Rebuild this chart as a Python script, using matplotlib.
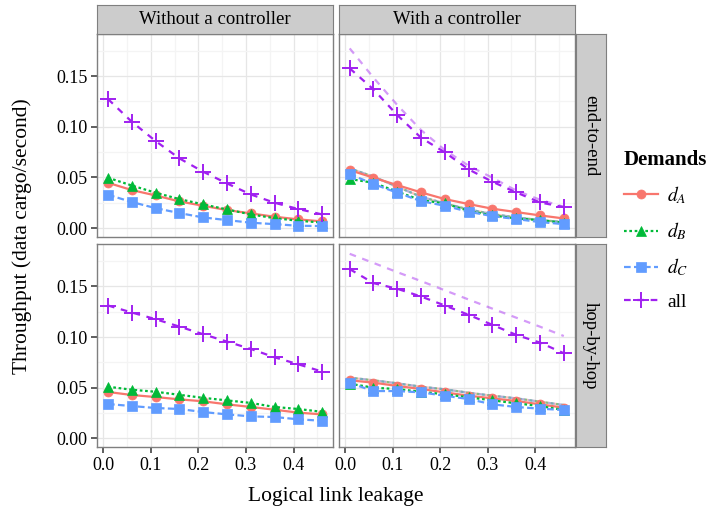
import matplotlib
matplotlib.use('Agg')
import matplotlib.pyplot as plt
from matplotlib.lines import Line2D

plt.rcParams['font.family'] = ['Liberation Serif', 'DejaVu Serif']
plt.rcParams['mathtext.fontset'] = 'stix'

# --- data ---
leakage = [0.01, 0.06, 0.11, 0.16, 0.21, 0.26, 0.31, 0.36, 0.41, 0.46]
demands = ['$d_A$', '$d_B$', '$d_C$', 'all']
columns = ['Without a controller', 'With a controller']
rows = ['end-to-end', 'hop-by-hop']

# end-to-end, without controller
e2e_off_dA = [0.0447, 0.0375, 0.0322, 0.0263, 0.0220, 0.0178, 0.0145, 0.0112, 0.0086, 0.0066]
e2e_off_dB = [0.0497, 0.0420, 0.0349, 0.0286, 0.0234, 0.0184, 0.0135, 0.0098, 0.0072, 0.0055]
e2e_off_dC = [0.0329, 0.0257, 0.0197, 0.0148, 0.0105, 0.0079, 0.0053, 0.0039, 0.0023, 0.0020]
e2e_off_all = [0.1273, 0.1049, 0.0859, 0.0688, 0.0556, 0.0441, 0.0332, 0.0250, 0.0188, 0.0135]

# end-to-end, with controller
e2e_on_dA = [0.0572, 0.0497, 0.0424, 0.0352, 0.0286, 0.0237, 0.0191, 0.0158, 0.0125, 0.0095]
e2e_on_dB = [0.0484, 0.0447, 0.0359, 0.0276, 0.0243, 0.0170, 0.0125, 0.0095, 0.0079, 0.0053]
e2e_on_dC = [0.0533, 0.0434, 0.0349, 0.0266, 0.0220, 0.0161, 0.0118, 0.0089, 0.0059, 0.0039]
e2e_on_all = [0.1576, 0.1368, 0.1115, 0.0891, 0.0747, 0.0579, 0.0457, 0.0352, 0.0253, 0.0207]
e2e_bound_pair = [0.0589, 0.0507, 0.0408, 0.0309, 0.0243, 0.0184, 0.0138, 0.0105, 0.0079, 0.0059]
e2e_bound_all = [0.1773, 0.1484, 0.1214, 0.0967, 0.0770, 0.0615, 0.0497, 0.0370, 0.0280, 0.0210]

# hop-by-hop, without controller
hbh_off_dA = [0.0458, 0.0428, 0.0408, 0.0385, 0.0366, 0.0336, 0.0310, 0.0283, 0.0254, 0.0237]
hbh_off_dB = [0.0510, 0.0480, 0.0460, 0.0430, 0.0400, 0.0375, 0.0350, 0.0310, 0.0290, 0.0262]
hbh_off_dC = [0.0339, 0.0319, 0.0300, 0.0290, 0.0260, 0.0237, 0.0217, 0.0211, 0.0188, 0.0174]
hbh_off_all = [0.1311, 0.1242, 0.1176, 0.1103, 0.1028, 0.0955, 0.0883, 0.0800, 0.0731, 0.0659]

# hop-by-hop, with controller
hbh_on_dA = [0.0573, 0.0550, 0.0517, 0.0487, 0.0454, 0.0421, 0.0395, 0.0369, 0.0336, 0.0303]
hbh_on_dB = [0.0540, 0.0500, 0.0487, 0.0460, 0.0435, 0.0405, 0.0375, 0.0346, 0.0319, 0.0280]
hbh_on_dC = [0.0547, 0.0467, 0.0467, 0.0454, 0.0421, 0.0388, 0.0336, 0.0310, 0.0293, 0.0280]
hbh_on_all = [0.1670, 0.1532, 0.1476, 0.1400, 0.1311, 0.1219, 0.1120, 0.1021, 0.0945, 0.0840]
hbh_bound_pair = [0.0599, 0.0573, 0.0543, 0.0510, 0.0484, 0.0450, 0.0421, 0.0395, 0.0362, 0.0329]
hbh_bound_all = [0.1821, 0.1731, 0.1640, 0.1552, 0.1461, 0.1370, 0.1280, 0.1191, 0.1102, 0.1010]

panels = {
    (0, 0): [e2e_off_dA, e2e_off_dB, e2e_off_dC, e2e_off_all],
    (0, 1): [e2e_on_dA, e2e_on_dB, e2e_on_dC, e2e_on_all],
    (1, 0): [hbh_off_dA, hbh_off_dB, hbh_off_dC, hbh_off_all],
    (1, 1): [hbh_on_dA, hbh_on_dB, hbh_on_dC, hbh_on_all],
}
bounds = {
    (0, 1): [e2e_bound_pair, e2e_bound_pair, e2e_bound_pair, e2e_bound_all],
    (1, 1): [hbh_bound_pair, hbh_bound_pair, hbh_bound_pair, hbh_bound_all],
}

colors = ['#F8766D', '#00BA38', '#619CFF', '#A020F0']
markers = ['o', '^', 's', '+']
msizes = [6.5, 7, 6.5, 11]
dashes = [None, (1.2, 1.2), (3, 1.5), (3, 3)]

W, H = 709, 516
fig = plt.figure(figsize=(W / 100, H / 100), dpi=100)

col_x = [97.3, 339.0]
pan_w = 235.5
row_top = [34.0, 244.3]
pan_h = 202.7
strip = 29.5

def fx(px):
    return px / W

def fy(py):
    return 1 - py / H

for (r, c), series in panels.items():
    ax = fig.add_axes([fx(col_x[c]), fy(row_top[r] + pan_h), fx(pan_w), pan_h / H])
    ax.set_xlim(-0.0125, 0.4825)
    ax.set_ylim(-0.0085, 0.1915)
    ax.set_xticks([0.0, 0.1, 0.2, 0.3, 0.4])
    ax.set_xticks([0.05, 0.15, 0.25, 0.35, 0.45], minor=True)
    ax.set_yticks([0.0, 0.05, 0.10, 0.15])
    ax.set_yticks([0.025, 0.075, 0.125, 0.175], minor=True)
    ax.grid(which='major', color='#E6E6E6', lw=0.9, zorder=0)
    ax.grid(which='minor', color='#F4F4F4', lw=0.9, zorder=0)
    ax.set_axisbelow(True)
    for s in ax.spines.values():
        s.set_color('#7F7F7F')
        s.set_linewidth(1.0)
    ax.tick_params(which='minor', length=0)
    ax.tick_params(which='major', length=4, width=1.1, color='#333333',
                   labelsize=13, pad=3)
    if c == 0:
        ax.set_yticklabels(['0.00', '0.05', '0.10', '0.15'])
    else:
        ax.tick_params(axis='y', labelleft=False, length=0)
    if r == 1:
        ax.set_xticklabels(['0.0', '0.1', '0.2', '0.3', '0.4'])
    else:
        ax.tick_params(axis='x', labelbottom=False, length=0)

    # light reference lines
    if (r, c) in bounds:
        for vals, col, d in zip(bounds[(r, c)], colors, dashes):
            ln, = ax.plot(leakage, vals, color=col, lw=1.6, alpha=0.45, zorder=2)
            if d is not None:
                ln.set_dashes(d)

    for vals, col, m, ms, d in zip(series, colors, markers, msizes, dashes):
        ln, = ax.plot(leakage, vals, color=col, lw=1.6, marker=m, ms=ms,
                      mew=1.4 if m == '+' else 0.5, mec=col, zorder=3)
        if d is not None:
            ln.set_dashes(d)

    # strips
    if r == 0:
        sax = fig.add_axes([fx(col_x[c]), fy(row_top[0]), fx(pan_w), strip / H])
        sax.set_xticks([])
        sax.set_yticks([])
        sax.set_facecolor('#CCCCCC')
        for s in sax.spines.values():
            s.set_color('#7F7F7F')
        sax.text(0.5, 0.5, columns[c], ha='center', va='center', fontsize=13.5)
    if c == 1:
        sax = fig.add_axes([fx(col_x[1] + pan_w + 1.5), fy(row_top[r] + pan_h),
                            fx(strip), pan_h / H])
        sax.set_xticks([])
        sax.set_yticks([])
        sax.set_facecolor('#CCCCCC')
        for s in sax.spines.values():
            s.set_color('#7F7F7F')
        sax.text(0.5, 0.5, rows[r], ha='center', va='center', fontsize=13.5,
                 rotation=270)

fig.text(fx(22), fy(236), 'Throughput (data cargo/second)', rotation=90,
         ha='center', va='center', fontsize=15.5)
fig.text(fx(336), fy(496), 'Logical link leakage', ha='center', va='center',
         fontsize=15.5)

handles = []
for col, m, ms, d in zip(colors, markers, msizes, dashes):
    h = Line2D([], [], color=col, lw=1.6, marker=m, ms=ms,
               mew=1.4 if m == '+' else 0.5, mec=col)
    if d is not None:
        h.set_dashes(d)
    handles.append(h)
leg = fig.legend(handles, demands, loc='upper left',
                 bbox_to_anchor=(fx(610), fy(136)), frameon=False,
                 fontsize=14, title='Demands', handlelength=1.75,
                 labelspacing=0.75, handletextpad=0.5, alignment='left',
                 borderpad=0.2)
leg.get_title().set_fontsize(15)
leg.get_title().set_fontweight('bold')

fig.savefig('out.png', dpi=100)
